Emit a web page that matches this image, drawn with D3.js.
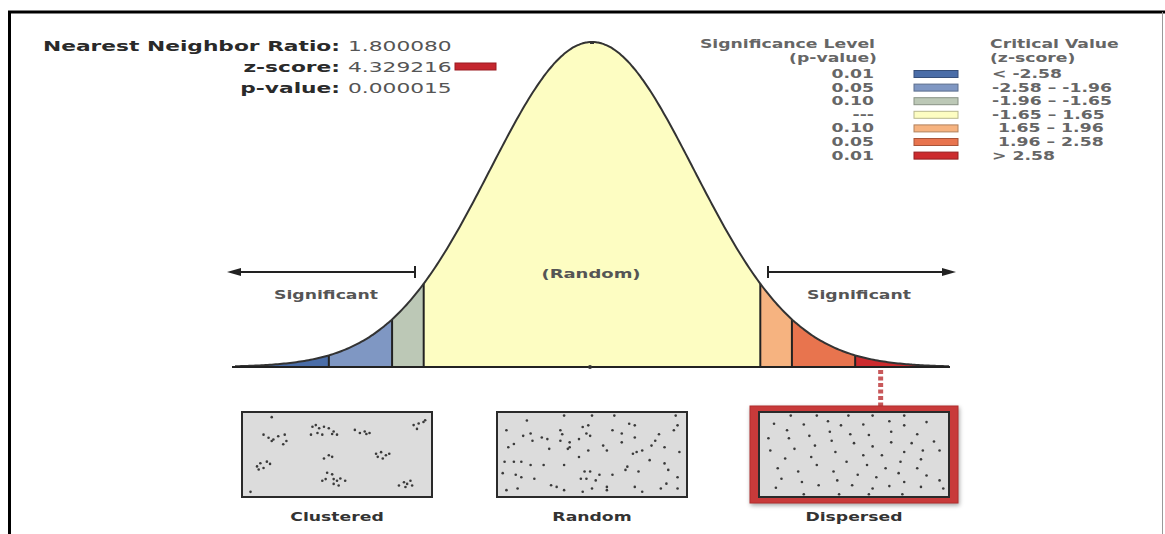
<!DOCTYPE html>
<html><head><meta charset="utf-8">
<script src="https://cdn.jsdelivr.net/npm/d3@7"></script>
<style>html,body{margin:0;padding:0;background:#fff;}svg{display:block;}</style>
</head><body>
<svg id="c" width="1165" height="534"></svg>
<script>
// ---------- data ----------
const statLabels = ["Nearest Neighbor Ratio:", "z-score:", "p-value:"];
const statValues = ["1.800080", "4.329216", "0.000015"];
const criticalValues = [-2.58, -1.96, -1.65, 1.65, 1.96, 2.58];
const zExtent = [-3.5, 3.5];
const bandColors = ["#4a6da8", "#7f97c3", "#bcc8b6", "#fdfdc2", "#f6b380", "#e8744e", "#cc2b2e"];
const legendP = ["0.01", "0.05", "0.10", "---", "0.10", "0.05", "0.01"];
const legendZ = ["< -2.58", "-2.58 – -1.96", "-1.96 – -1.65", "-1.65 – 1.65", " 1.65 – 1.96", " 1.96 – 2.58", "> 2.58"];
const observedMarkerZ = 2.83;
const panelNames = ["Clustered", "Random", "Dispersed"];
const clusteredPts = [[14.9,3.9],[10.5,25.5],[13.2,29.4],[15.8,31.4],[14.9,33.3],[18.4,27.5],[21.9,25.5],[22.8,33.3],[21.1,37.3],
 [36.8,15.7],[38.6,13.7],[40.4,17.6],[43,15.7],[45.6,17.6],[48.2,21.6],[36,25.5],[39.5,23.5],[42.1,25.5],[47.4,24.7],[50,25.5],
 [59.6,19.6],[62.3,23.5],[65.8,24.7],[67.5,23.5],[64.9,21.6],[91.2,13.7],[93.9,11.8],[96.5,9.8],[93,18.4],[97.4,7.8],
 [43,54.9],[45.6,51],[47.4,52.9],[71,49],[73.7,47.1],[76.3,51],[74.6,54.9],[78.1,49],[71.9,52.9],
 [7,64.7],[8.8,60.8],[12.3,58.8],[14,61.6],[7.9,68.6],[10.5,66.7],
 [44.7,72.5],[47.4,74.5],[43.9,80.4],[42.1,82.4],[48.2,80.4],[50,82.4],[51.8,79.6],[54.4,82.4],[48.2,86.3],[50.9,88.2],
 [83.3,88.2],[86,84.3],[87.7,86.3],[89.5,82.4],[86.8,90.2],[90.4,88.2],[3.5,96.1]];
const randomPts = [[15,8],[4,20],[13,27],[17,24],[18,33],[8,37],[5,41],[23,29],[26,31],[33,20],[34,25],[33,33],[38,35],[38,41],
 [43,31],[45,16],[48,14],[47,24],[49,27],[43,53],[48,45],[56,39],[58,45],[61,20],[66,24],[66,35],[70,12],[73,14],[73,29],
 [72,49],[74,47],[77,45],[81,57],[86,25],[94,20],[96,14],[97,47],[95,2],[89,61],[91,69],[96,78],[90,86],[96,92],[87,92],
 [77,96],[73,90],[68,69],[69,65],[75,71],[61,75],[54,75],[49,71],[46,71],[44,80],[47,80],[52,82],[58,90],[58,94],[50,92],
 [45,96],[35,94],[31,90],[28,88],[19,80],[12,78],[9,75],[3,59],[8,59],[12,59],[17,63],[24,63],[35,63],[37,43],[27,43],
 [4,94],[10,92],[2,73],[62,2],[50,2],[35,2],[84,33],[82,39],[89,41]];
const dispersedPts = [[16,2],[30,2],[47,2],[60,2],[77,2],[7,12],[23,13],[36,9],[43,14],[55,13],[69,9],[77,14],[89,10],
 [14,20],[26,27],[37,22],[48,25],[58,26],[70,22],[84,25],[4,30],[15,30],[29,39],[38,33],[50,36],[60,40],[70,35],[81,36],[93,34],
 [5,45],[18,43],[27,53],[40,47],[55,51],[65,51],[77,47],[87,45],[96,45],[13,55],[46,59],[57,63],[67,67],[75,59],[86,56],
 [9,67],[20,71],[30,63],[39,71],[52,75],[62,78],[74,73],[84,67],[89,76],[11,80],[22,84],[31,88],[41,82],[49,88],[60,92],
 [69,89],[77,84],[86,90],[96,82],[8,91],[23,99],[42,99],[58,99],[76,99],[98,92]];
const panelPoints = [clusteredPts, randomPts, dispersedPts];

// ---------- drawing ----------
const svg = d3.select("#c");
const FONT = "'DejaVu Sans', Verdana, sans-serif";
const SX = 1.5;
function stext(g, x, y, str, opt) {
  return g.append("text")
    .attr("transform", `translate(${x},${y}) scale(${SX},1)`)
    .attr("text-anchor", opt.anchor || "start")
    .attr("font-family", FONT)
    .attr("font-size", opt.size || 11.5)
    .attr("font-weight", opt.weight || "bold")
    .attr("fill", opt.fill || "#555")
    .attr("xml:space", "preserve")
    .style("white-space", "pre")
    .text(str);
}

// frame
svg.append("line").attr("x1", 8).attr("x2", 1165).attr("y1", 12).attr("y2", 12).attr("stroke", "#000").attr("stroke-width", 3);
svg.append("line").attr("x1", 9.5).attr("x2", 9.5).attr("y1", 11).attr("y2", 534).attr("stroke", "#000").attr("stroke-width", 3);
svg.append("line").attr("x1", 1162.5).attr("x2", 1162.5).attr("y1", 12).attr("y2", 534).attr("stroke", "#999").attr("stroke-width", 1);

// scales
const x = d3.scaleLinear().domain(zExtent).range([235, 949]);
const pdf = z => Math.exp(-z * z / 2);
const y = d3.scaleLinear().domain([0, 1]).range([367, 42]);
const area = d3.area().x(d => x(d)).y0(y(0)).y1(d => y(pdf(d))).curve(d3.curveBasis);
const line = d3.line().x(d => x(d)).y(d => y(pdf(d))).curve(d3.curveBasis);

const edges = [zExtent[0], ...criticalValues, zExtent[1]];
const bands = d3.range(bandColors.length).map(i => ({ lo: edges[i], hi: edges[i + 1], color: bandColors[i] }));
const step = 0.02;
const samples = (lo, hi) => { const s = d3.range(lo, hi, step); s.push(hi); return s; };

const gc = svg.append("g");
gc.selectAll("path.band").data(bands).join("path").attr("class", "band")
  .attr("d", d => area(samples(d.lo, d.hi))).attr("fill", d => d.color);
gc.selectAll("line.crit").data(criticalValues).join("line").attr("class", "crit")
  .attr("x1", d => x(d)).attr("x2", d => x(d)).attr("y1", y(0)).attr("y2", d => y(pdf(d)))
  .attr("stroke", "#222").attr("stroke-width", 2);
gc.append("path").attr("d", line(samples(zExtent[0], zExtent[1]))).attr("fill", "none")
  .attr("stroke", "#333").attr("stroke-width", 2);
gc.append("line").attr("x1", 232).attr("x2", 950).attr("y1", y(0)).attr("y2", y(0)).attr("stroke", "#222").attr("stroke-width", 2);
gc.append("circle").attr("cx", x(0) - 2).attr("cy", y(0)).attr("r", 2).attr("fill", "#333");
gc.append("line").attr("x1", x(0) - 2).attr("x2", x(0) + 2).attr("y1", y(1) + 1).attr("y2", y(1) + 1).attr("stroke", "#333").attr("stroke-width", 2);

// arrows
const ay = 272;
const ga = svg.append("g").attr("stroke", "#222").attr("fill", "#222");
ga.append("line").attr("x1", 236).attr("x2", 415).attr("y1", ay).attr("y2", ay).attr("stroke-width", 2);
ga.append("line").attr("x1", 415).attr("x2", 415).attr("y1", ay - 6).attr("y2", ay + 6).attr("stroke-width", 2);
ga.append("path").attr("d", `M227,${ay} L241,${ay - 4} L241,${ay + 4} Z`).attr("stroke", "none");
ga.append("line").attr("x1", 768).attr("x2", 946).attr("y1", ay).attr("y2", ay).attr("stroke-width", 2);
ga.append("line").attr("x1", 768).attr("x2", 768).attr("y1", ay - 6).attr("y2", ay + 6).attr("stroke-width", 2);
ga.append("path").attr("d", `M956,${ay} L942,${ay - 4} L942,${ay + 4} Z`).attr("stroke", "none");

stext(svg, 326, 299, "Significant", { anchor: "middle" });
stext(svg, 859, 299, "Significant", { anchor: "middle" });
stext(svg, 591, 278, "(Random)", { anchor: "middle", size: 12 });

// stats
statLabels.forEach((s, i) => {
  stext(svg, 340, 51 + i * 21, s, { anchor: "end", size: 14.5, fill: "#2a2a2a" });
  stext(svg, 348, 51 + i * 21, statValues[i], { anchor: "start", size: 14.5, weight: "normal", fill: "#555" });
});
svg.append("rect").attr("x", 455).attr("y", 63).attr("width", 41).attr("height", 7).attr("fill", "#c4262e").attr("stroke", "#9a1a20").attr("stroke-width", 1);

// legend
stext(svg, 875, 48, "Significance Level", { anchor: "end", fill: "#666" });
stext(svg, 877, 62, "(p-value)", { anchor: "end", fill: "#666" });
stext(svg, 990, 48, "Critical Value", { fill: "#666" });
stext(svg, 990, 62, "(z-score)", { fill: "#666" });
legendP.forEach((p, i) => {
  const cy = 74 + i * 13.6;
  stext(svg, 874, cy + 4, p, { anchor: p === "---" ? "end" : "end", fill: "#666" });
  svg.append("rect").attr("x", 914).attr("y", cy - 3.5).attr("width", 44).attr("height", 7)
    .attr("fill", bandColors[i]).attr("stroke", d3.color(bandColors[i]).darker(0.9)).attr("stroke-width", 1);
  stext(svg, 992, cy + 4, legendZ[i], { fill: "#666" });
});

// observed marker connector
svg.append("line").attr("x1", x(observedMarkerZ)).attr("x2", x(observedMarkerZ)).attr("y1", 370).attr("y2", 406)
  .attr("stroke", "#c8585a").attr("stroke-width", 5).attr("stroke-dasharray", "4,2.5");

// panels
const panelCx = [337, 592, 854];
const pw = 190, ph = 85, ptop = 412;
panelNames.forEach((name, i) => {
  const x0 = panelCx[i] - pw / 2;
  const g = svg.append("g");
  if (i === 2) {
    g.append("rect").attr("x", x0 - 9).attr("y", ptop - 6).attr("width", pw + 18).attr("height", ph + 12)
      .attr("fill", "#c83a3a").attr("stroke", "#b22c2c").attr("stroke-width", 1)
      .style("filter", "drop-shadow(1px 2px 2px rgba(0,0,0,0.35))");
  }
  g.append("rect").attr("x", x0).attr("y", ptop).attr("width", pw).attr("height", ph)
    .attr("fill", "#dcdcdc").attr("stroke", "#2a2a2a").attr("stroke-width", 2);
  const px = d3.scaleLinear().domain([0, 100]).range([x0 + 2, x0 + pw - 2]);
  const py = d3.scaleLinear().domain([0, 100]).range([ptop + 2, ptop + ph - 2]);
  g.selectAll("circle").data(panelPoints[i]).join("circle")
    .attr("cx", d => px(d[0])).attr("cy", d => py(d[1])).attr("r", 1.3)
    .attr("fill", "#3a3a3a");
  stext(svg, panelCx[i], 521, name, { anchor: "middle", fill: "#333" });
});
</script>
</body></html>
